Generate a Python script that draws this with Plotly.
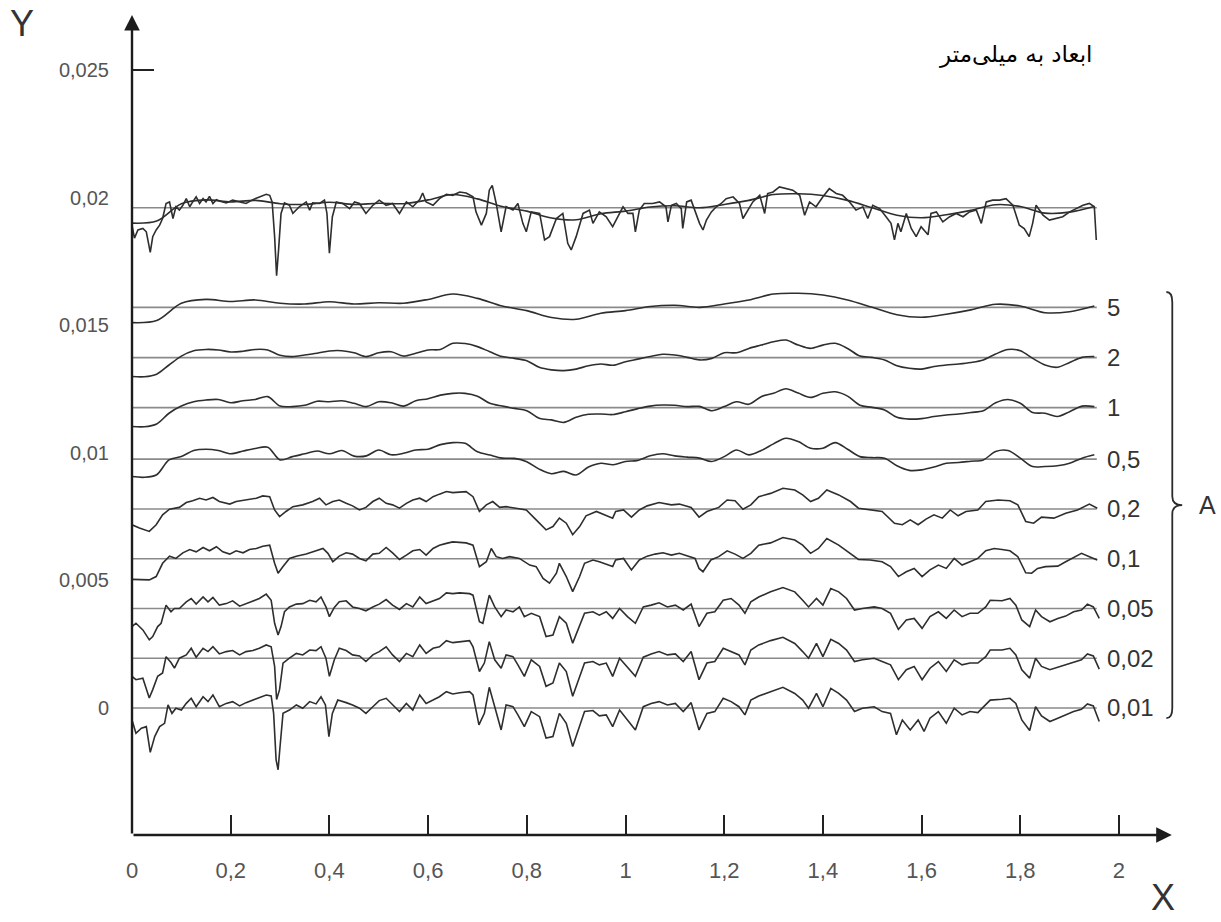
import numpy as np
import plotly.graph_objects as go

# ---------------------------------------------------------------
# Surface profile (raw) and its filtered versions, heights in mm.
# Each profile: x positions (mm) and deviation from its mean line (um).
# ---------------------------------------------------------------
cutoff_labels = ["5", "2", "1", "0,5", "0,2", "0,1", "0,05", "0,02", "0,01"]
raw_level = 0.0196
levels = [0.0157, 0.01373, 0.01177, 0.00975, 0.0078, 0.00585, 0.0039, 0.00195, 0.0]
profile_end = 1.955

x_tick_vals = [0, 0.2, 0.4, 0.6, 0.8, 1.0, 1.2, 1.4, 1.6, 1.8, 2.0]
x_tick_text = ["0", "0,2", "0,4", "0,6", "0,8", "1", "1,2", "1,4", "1,6", "1,8", "2"]
y_tick_vals = [-0.005, 0, 0.005, 0.01, 0.015, 0.02, 0.025]
y_tick_text = ["-0,005", "0", "0,005", "0,01", "0,015", "0,02", "0,025"]

# cut-off 5 mm, sampled every 0.05 mm
dz_5 = [-0.60, -0.52, 0.16, 0.31, 0.23, 0.29, 0.16, 0.13, 0.22, 0.13,
        0.18, 0.16, 0.31, 0.52, 0.35, 0.05, -0.13, -0.40, -0.47, -0.23,
        -0.13, 0.03, 0.08, 0.00, 0.13, 0.29, 0.52, 0.55, 0.48, 0.29,
        0.00, -0.29, -0.39, -0.27, -0.10, 0.12, 0.05, -0.21, -0.17, 0.05]

# cut-offs 2, 1 and 0.5 mm, sampled every 0.025 mm
dz_2 = [-0.74, -0.75, -0.65, -0.29, 0.06, 0.27, 0.32, 0.30, 0.22, 0.25,
        0.32, 0.30, 0.09, 0.04, 0.10, 0.17, 0.26, 0.27, 0.19, 0.04,
        0.19, 0.23, 0.06, 0.17, 0.30, 0.32, 0.56, 0.55, 0.43, 0.23,
        0.04, -0.03, -0.12, -0.38, -0.48, -0.51, -0.45, -0.32, -0.25, -0.30,
        -0.16, -0.06, 0.04, 0.13, 0.10, 0.01, -0.09, -0.03, 0.19, 0.19,
        0.36, 0.49, 0.62, 0.69, 0.49, 0.36, 0.49, 0.56, 0.36, 0.06,
        0.01, -0.09, -0.32, -0.42, -0.45, -0.35, -0.29, -0.25, -0.19, -0.09,
        0.14, 0.32, 0.27, -0.03, -0.29, -0.38, -0.19, 0.01, 0.04]
dz_1 = [-0.74, -0.75, -0.64, -0.22, 0.06, 0.23, 0.30, 0.32, 0.19, 0.27,
        0.32, 0.43, 0.06, 0.04, 0.09, 0.25, 0.23, 0.27, 0.17, 0.04,
        0.23, 0.19, 0.06, 0.27, 0.35, 0.49, 0.56, 0.56, 0.45, 0.17,
        0.06, -0.03, -0.12, -0.42, -0.48, -0.58, -0.38, -0.26, -0.25, -0.27,
        -0.16, -0.04, 0.06, 0.10, 0.09, 0.04, 0.05, -0.12, 0.04, 0.23,
        0.13, 0.43, 0.56, 0.74, 0.57, 0.40, 0.56, 0.62, 0.45, 0.09,
        0.01, -0.09, -0.38, -0.45, -0.43, -0.35, -0.29, -0.25, -0.19, -0.12,
        0.19, 0.32, 0.17, -0.19, -0.22, -0.35, -0.16, 0.06, 0.04]
dz_05 = [-0.68, -0.71, -0.61, -0.03, 0.10, 0.34, 0.39, 0.34, 0.21, 0.32,
         0.42, 0.47, -0.03, 0.10, 0.21, 0.32, 0.21, 0.34, 0.12, 0.13,
         0.36, 0.17, 0.23, 0.36, 0.39, 0.57, 0.65, 0.62, 0.29, 0.16,
         0.04, 0.03, -0.10, -0.39, -0.57, -0.48, -0.62, -0.31, -0.16, -0.22,
         -0.09, -0.05, 0.13, 0.21, 0.13, 0.08, 0.04, -0.09, 0.10, 0.36,
         0.17, 0.34, 0.60, 0.82, 0.69, 0.43, 0.43, 0.65, 0.39, 0.10,
         0.06, 0.04, -0.26, -0.44, -0.42, -0.31, -0.16, -0.13, -0.08, -0.03,
         0.30, 0.34, 0.04, -0.29, -0.29, -0.26, -0.16, 0.04, 0.17]

# cut-off 0.2 mm: (x mm, deviation um)
pts_02 = [(0.000, -0.62), (0.015, -0.75), (0.035, -0.88), (0.049, -0.62), (0.062, -0.23),
          (0.076, -0.01), (0.096, 0.06), (0.110, 0.25), (0.123, 0.32), (0.137, 0.42),
          (0.150, 0.35), (0.164, 0.45), (0.177, 0.29), (0.198, 0.19), (0.211, 0.29),
          (0.231, 0.35), (0.252, 0.42), (0.265, 0.51), (0.279, 0.48), (0.289, -0.04),
          (0.299, -0.30), (0.312, -0.10), (0.326, 0.09), (0.346, 0.16), (0.366, 0.29),
          (0.380, 0.42), (0.393, 0.16), (0.407, 0.29), (0.420, 0.35), (0.434, 0.22),
          (0.447, 0.12), (0.461, -0.04), (0.474, 0.06), (0.488, 0.29), (0.501, 0.42),
          (0.515, 0.22), (0.528, 0.16), (0.542, 0.03), (0.556, 0.22), (0.569, 0.35),
          (0.583, 0.42), (0.596, 0.29), (0.610, 0.48), (0.623, 0.58), (0.637, 0.68),
          (0.650, 0.64), (0.677, 0.68), (0.691, 0.48), (0.704, -0.10), (0.718, 0.16),
          (0.731, 0.29), (0.745, 0.06), (0.758, 0.09), (0.778, 0.03), (0.799, -0.04),
          (0.819, -0.43), (0.839, -0.82), (0.853, -0.69), (0.866, -0.36), (0.880, -0.56),
          (0.893, -1.01), (0.907, -0.69), (0.920, -0.27), (0.941, -0.10), (0.961, -0.27),
          (0.974, -0.36), (0.980, -0.10), (0.996, -0.04), (1.012, -0.32), (1.028, -0.04),
          (1.044, 0.12), (1.068, 0.25), (1.093, 0.16), (1.109, 0.19), (1.133, 0.06),
          (1.149, -0.32), (1.165, -0.10), (1.189, 0.06), (1.206, 0.35), (1.222, 0.32),
          (1.238, -0.01), (1.254, 0.16), (1.270, 0.48), (1.294, 0.61), (1.319, 0.81),
          (1.343, 0.74), (1.359, 0.55), (1.375, 0.29), (1.391, 0.42), (1.408, 0.74),
          (1.432, 0.55), (1.456, 0.29), (1.472, 0.03), (1.496, -0.04), (1.520, -0.10),
          (1.545, -0.56), (1.561, -0.62), (1.577, -0.43), (1.593, -0.62), (1.609, -0.40),
          (1.625, -0.23), (1.642, -0.36), (1.658, -0.04), (1.674, -0.27), (1.690, -0.10),
          (1.714, -0.04), (1.730, 0.29), (1.755, 0.35), (1.779, 0.32), (1.795, 0.16),
          (1.811, -0.49), (1.827, -0.56), (1.843, -0.32), (1.868, -0.36), (1.892, -0.17),
          (1.916, -0.04), (1.940, 0.19), (1.956, 0.03)]

# cut-off 0.1 mm
pts_01 = [(0.000, -0.81), (0.015, -0.81), (0.035, -0.83), (0.049, -0.70), (0.062, -0.18),
          (0.076, 0.10), (0.089, 0.01), (0.103, 0.23), (0.117, 0.36), (0.130, 0.27),
          (0.144, 0.44), (0.157, 0.31), (0.171, 0.47), (0.184, 0.27), (0.198, 0.18),
          (0.211, 0.31), (0.225, 0.23), (0.238, 0.36), (0.252, 0.40), (0.265, 0.49),
          (0.279, 0.53), (0.289, -0.18), (0.296, -0.57), (0.306, -0.31), (0.319, 0.01),
          (0.333, 0.10), (0.353, 0.18), (0.373, 0.31), (0.387, 0.40), (0.397, 0.21),
          (0.407, -0.12), (0.420, 0.10), (0.434, 0.23), (0.447, 0.18), (0.461, 0.01),
          (0.474, -0.08), (0.488, 0.18), (0.501, 0.21), (0.515, 0.44), (0.528, 0.23),
          (0.542, -0.03), (0.556, 0.14), (0.569, 0.31), (0.583, 0.36), (0.596, 0.14),
          (0.610, 0.40), (0.623, 0.53), (0.637, 0.60), (0.650, 0.66), (0.677, 0.62),
          (0.691, 0.53), (0.704, -0.31), (0.718, -0.12), (0.728, 0.40), (0.738, 0.08),
          (0.751, 0.01), (0.765, 0.08), (0.785, 0.01), (0.806, -0.25), (0.819, -0.31),
          (0.833, -0.77), (0.846, -0.96), (0.860, -0.57), (0.866, -0.18), (0.880, -0.70),
          (0.893, -1.29), (0.907, -0.70), (0.917, -0.18), (0.934, -0.05), (0.947, -0.12),
          (0.961, -0.21), (0.974, -0.31), (0.980, -0.05), (0.996, 0.01), (1.012, -0.44),
          (1.028, -0.05), (1.044, 0.10), (1.060, 0.18), (1.076, 0.23), (1.093, 0.14),
          (1.109, 0.21), (1.125, 0.10), (1.141, 0.01), (1.149, -0.38), (1.157, -0.51),
          (1.173, -0.05), (1.189, 0.08), (1.206, 0.31), (1.222, 0.18), (1.238, 0.01),
          (1.254, 0.21), (1.270, 0.53), (1.294, 0.62), (1.319, 0.83), (1.343, 0.73),
          (1.359, 0.53), (1.375, 0.21), (1.391, 0.40), (1.408, 0.79), (1.432, 0.53),
          (1.456, 0.21), (1.472, -0.03), (1.496, -0.05), (1.520, -0.12), (1.537, -0.31),
          (1.553, -0.70), (1.569, -0.51), (1.585, -0.38), (1.601, -0.70), (1.617, -0.44),
          (1.634, -0.25), (1.650, -0.38), (1.666, 0.01), (1.682, -0.25), (1.698, -0.12),
          (1.714, 0.01), (1.730, 0.31), (1.747, 0.40), (1.763, 0.36), (1.779, 0.31),
          (1.795, 0.08), (1.811, -0.55), (1.823, -0.57), (1.835, -0.38), (1.851, -0.31),
          (1.876, -0.29), (1.892, -0.12), (1.908, 0.05), (1.924, 0.21), (1.940, 0.08),
          (1.956, -0.05)]

# cut-off 0.05 mm
pts_005 = [(0.000, -0.71), (0.008, -0.58), (0.022, -0.84), (0.035, -1.23), (0.042, -1.10),
           (0.052, -0.71), (0.059, -0.58), (0.069, 0.13), (0.079, -0.13), (0.086, 0.00),
           (0.096, 0.00), (0.110, 0.26), (0.120, 0.39), (0.130, 0.17), (0.144, 0.45),
           (0.154, 0.26), (0.164, 0.43), (0.177, 0.13), (0.191, 0.19), (0.204, 0.30),
           (0.218, 0.09), (0.231, 0.19), (0.245, 0.30), (0.258, 0.39), (0.272, 0.56),
           (0.282, 0.32), (0.289, -0.58), (0.296, -1.04), (0.302, -0.71), (0.309, -0.13),
           (0.319, 0.06), (0.333, 0.17), (0.346, 0.19), (0.360, 0.32), (0.373, 0.26),
           (0.383, 0.45), (0.393, 0.06), (0.400, -0.32), (0.410, 0.04), (0.420, 0.26),
           (0.434, 0.30), (0.447, 0.06), (0.461, 0.00), (0.474, -0.09), (0.488, 0.06),
           (0.501, 0.17), (0.515, 0.35), (0.528, 0.13), (0.542, -0.04), (0.556, 0.19),
           (0.569, 0.06), (0.583, 0.45), (0.596, 0.19), (0.610, 0.30), (0.623, 0.39),
           (0.637, 0.61), (0.650, 0.58), (0.664, 0.61), (0.684, 0.58), (0.691, 0.52),
           (0.704, -0.52), (0.711, -0.58), (0.724, 0.52), (0.735, 0.06), (0.748, -0.32),
           (0.758, -0.06), (0.772, -0.13), (0.785, 0.06), (0.795, -0.32), (0.809, -0.19),
           (0.826, -0.32), (0.839, -1.10), (0.853, -1.04), (0.866, -0.32), (0.880, -0.58),
           (0.893, -1.36), (0.907, -0.65), (0.917, -0.19), (0.934, -0.13), (0.947, -0.26),
           (0.961, -0.13), (0.974, -0.39), (0.988, 0.00), (1.004, -0.32), (1.020, -0.58),
           (1.036, 0.06), (1.052, 0.13), (1.068, 0.22), (1.085, 0.06), (1.101, 0.13),
           (1.117, -0.06), (1.133, 0.17), (1.149, -0.71), (1.165, -0.19), (1.181, -0.13),
           (1.198, 0.32), (1.214, 0.39), (1.230, 0.13), (1.242, -0.19), (1.254, 0.26),
           (1.270, 0.45), (1.294, 0.65), (1.319, 0.82), (1.343, 0.65), (1.359, 0.32),
           (1.371, 0.06), (1.387, 0.39), (1.400, 0.13), (1.416, 0.78), (1.432, 0.65),
           (1.448, 0.39), (1.464, -0.06), (1.480, 0.00), (1.504, 0.06), (1.520, 0.00),
           (1.537, -0.19), (1.553, -0.82), (1.569, -0.45), (1.585, -0.39), (1.601, -0.78),
           (1.617, -0.32), (1.634, -0.13), (1.650, -0.39), (1.666, -0.06), (1.682, -0.32),
           (1.698, -0.19), (1.714, -0.19), (1.730, 0.06), (1.739, 0.32), (1.763, 0.30),
           (1.779, 0.39), (1.791, 0.13), (1.803, -0.45), (1.819, -0.71), (1.831, -0.06),
           (1.843, -0.32), (1.860, -0.52), (1.876, -0.39), (1.892, -0.30), (1.908, -0.13),
           (1.924, -0.06), (1.936, 0.17), (1.948, 0.06), (1.960, -0.39)]

# cut-off 0.02 mm
pts_002 = [(0.000, -0.71), (0.008, -0.84), (0.022, -0.78), (0.035, -1.56), (0.042, -1.23),
           (0.052, -0.71), (0.062, -0.58), (0.069, 0.06), (0.079, -0.17), (0.086, -0.39),
           (0.096, 0.00), (0.110, 0.13), (0.120, 0.39), (0.130, 0.04), (0.144, 0.39),
           (0.154, 0.26), (0.164, 0.45), (0.177, 0.17), (0.191, 0.26), (0.204, 0.30),
           (0.218, 0.13), (0.231, 0.26), (0.245, 0.30), (0.258, 0.39), (0.272, 0.52),
           (0.282, 0.45), (0.289, -0.32), (0.293, -1.62), (0.299, -1.23), (0.306, -0.19),
           (0.319, 0.00), (0.333, 0.19), (0.346, 0.13), (0.360, 0.32), (0.373, 0.30),
           (0.383, 0.45), (0.393, 0.00), (0.400, -0.71), (0.410, -0.06), (0.420, 0.39),
           (0.434, 0.30), (0.447, 0.13), (0.461, 0.09), (0.474, -0.13), (0.488, 0.13),
           (0.501, 0.26), (0.515, 0.45), (0.528, 0.13), (0.542, -0.13), (0.556, 0.19),
           (0.569, 0.06), (0.583, 0.52), (0.596, 0.19), (0.610, 0.39), (0.623, 0.45),
           (0.637, 0.69), (0.650, 0.61), (0.664, 0.65), (0.684, 0.69), (0.691, 0.45),
           (0.704, -0.52), (0.714, -0.19), (0.724, 0.65), (0.735, -0.06), (0.748, -0.39),
           (0.758, 0.13), (0.772, 0.06), (0.782, -0.26), (0.795, -0.71), (0.809, -0.06),
           (0.826, -0.32), (0.839, -1.10), (0.853, -0.97), (0.866, -0.19), (0.880, -0.52),
           (0.893, -1.49), (0.907, -0.71), (0.917, -0.19), (0.934, -0.13), (0.947, -0.26),
           (0.961, -0.19), (0.974, -0.71), (0.988, 0.00), (1.004, -0.35), (1.020, -0.71),
           (1.036, 0.04), (1.052, 0.17), (1.068, 0.26), (1.085, 0.13), (1.101, 0.17),
           (1.117, -0.13), (1.133, 0.26), (1.149, -0.84), (1.165, -0.19), (1.181, -0.13),
           (1.198, 0.39), (1.214, 0.26), (1.230, 0.13), (1.242, -0.26), (1.254, 0.32),
           (1.270, 0.52), (1.294, 0.69), (1.319, 0.82), (1.343, 0.58), (1.359, 0.26),
           (1.371, 0.00), (1.387, 0.58), (1.400, 0.06), (1.416, 0.74), (1.432, 0.58),
           (1.448, 0.32), (1.464, -0.13), (1.480, -0.06), (1.504, 0.00), (1.520, -0.13),
           (1.537, -0.26), (1.553, -0.84), (1.569, -0.45), (1.585, -0.32), (1.601, -0.84),
           (1.617, -0.39), (1.634, -0.13), (1.650, -0.52), (1.666, -0.06), (1.682, -0.26),
           (1.698, -0.19), (1.714, -0.19), (1.730, 0.06), (1.739, 0.32), (1.763, 0.32),
           (1.779, 0.39), (1.791, 0.13), (1.803, -0.45), (1.819, -0.78), (1.831, 0.00),
           (1.843, -0.32), (1.860, -0.45), (1.876, -0.35), (1.892, -0.26), (1.908, -0.17),
           (1.924, -0.06), (1.936, 0.17), (1.948, 0.09), (1.960, -0.43)]

# cut-off 0.01 mm
pts_001 = [(0.000, -0.47), (0.008, -0.99), (0.019, -0.79), (0.029, -0.73), (0.037, -1.74),
           (0.046, -1.12), (0.056, -0.73), (0.066, -0.60), (0.073, 0.12), (0.081, -0.21),
           (0.089, -0.01), (0.100, -0.08), (0.110, 0.18), (0.120, 0.38), (0.130, 0.05),
           (0.144, 0.44), (0.154, 0.25), (0.164, 0.51), (0.177, 0.05), (0.191, 0.18),
           (0.204, 0.25), (0.218, 0.08), (0.231, 0.21), (0.245, 0.31), (0.258, 0.42),
           (0.272, 0.51), (0.282, 0.47), (0.287, -0.21), (0.292, -2.03), (0.296, -2.42),
           (0.300, -1.51), (0.306, -0.21), (0.319, -0.08), (0.333, 0.12), (0.346, -0.01),
           (0.360, 0.25), (0.373, 0.16), (0.383, 0.44), (0.392, 0.12), (0.399, -1.12),
           (0.406, -0.21), (0.417, 0.31), (0.434, 0.21), (0.447, 0.12), (0.461, -0.01),
           (0.474, -0.21), (0.488, 0.05), (0.501, 0.29), (0.515, 0.38), (0.528, 0.12),
           (0.542, -0.14), (0.556, 0.18), (0.569, -0.08), (0.583, 0.51), (0.596, 0.18),
           (0.610, 0.31), (0.623, 0.44), (0.637, 0.64), (0.650, 0.55), (0.664, 0.60),
           (0.684, 0.64), (0.691, 0.51), (0.703, -0.66), (0.714, -0.21), (0.724, 0.81),
           (0.735, 0.05), (0.748, -0.86), (0.758, 0.12), (0.772, 0.05), (0.782, -0.27),
           (0.795, -0.73), (0.809, -0.14), (0.826, -0.34), (0.839, -1.18), (0.853, -1.12),
           (0.866, -0.21), (0.880, -0.60), (0.893, -1.51), (0.907, -0.73), (0.917, -0.14),
           (0.934, -0.10), (0.947, -0.31), (0.961, -0.27), (0.974, -0.73), (0.988, -0.08),
           (1.004, -0.47), (1.020, -0.86), (1.036, 0.05), (1.052, 0.18), (1.068, 0.25),
           (1.085, 0.12), (1.101, 0.18), (1.117, -0.14), (1.133, 0.21), (1.149, -0.86),
           (1.165, -0.21), (1.181, -0.14), (1.198, 0.38), (1.214, 0.25), (1.230, 0.05),
           (1.242, -0.27), (1.254, 0.31), (1.270, 0.47), (1.294, 0.64), (1.319, 0.81),
           (1.343, 0.57), (1.359, 0.31), (1.371, -0.01), (1.387, 0.57), (1.400, 0.05),
           (1.416, 0.77), (1.432, 0.57), (1.448, 0.31), (1.464, -0.14), (1.480, -0.01),
           (1.504, 0.05), (1.520, -0.14), (1.537, -0.21), (1.549, -1.05), (1.561, -0.47),
           (1.577, -0.86), (1.593, -0.47), (1.605, -0.92), (1.617, -0.40), (1.634, -0.14),
           (1.650, -0.60), (1.666, -0.01), (1.682, -0.27), (1.698, -0.14), (1.714, -0.18),
           (1.730, 0.12), (1.739, 0.31), (1.763, 0.34), (1.779, 0.38), (1.791, 0.18),
           (1.803, -0.47), (1.819, -0.88), (1.831, 0.05), (1.843, -0.31), (1.860, -0.53),
           (1.876, -0.40), (1.892, -0.27), (1.908, -0.14), (1.924, -0.05), (1.936, 0.16),
           (1.948, 0.08), (1.960, -0.53)]

# unfiltered profile
pts_raw = [(0.000, -0.68), (0.005, -1.19), (0.012, -0.87), (0.022, -0.81), (0.029, -0.94),
           (0.037, -1.75), (0.042, -1.13), (0.049, -0.87), (0.056, -0.68), (0.062, -0.42),
           (0.069, 0.17), (0.076, 0.23), (0.083, -0.42), (0.089, 0.04), (0.096, -0.09),
           (0.103, 0.10), (0.110, 0.36), (0.117, 0.04), (0.123, 0.23), (0.130, 0.43),
           (0.137, 0.17), (0.144, 0.36), (0.150, 0.23), (0.157, 0.45), (0.164, 0.17),
           (0.171, 0.32), (0.177, 0.27), (0.191, 0.19), (0.204, 0.30), (0.218, 0.23),
           (0.231, 0.17), (0.245, 0.32), (0.258, 0.43), (0.272, 0.53), (0.279, 0.49),
           (0.284, 0.23), (0.289, -1.13), (0.293, -2.66), (0.297, -1.65), (0.302, -0.22),
           (0.309, 0.19), (0.319, 0.10), (0.326, -0.22), (0.339, 0.04), (0.353, 0.23),
           (0.360, -0.09), (0.366, 0.19), (0.380, 0.17), (0.390, 0.30), (0.395, -0.22),
           (0.400, -1.78), (0.406, -0.35), (0.414, 0.23), (0.427, 0.17), (0.441, -0.03),
           (0.451, 0.23), (0.461, 0.17), (0.474, -0.22), (0.488, 0.10), (0.501, 0.30),
           (0.515, 0.10), (0.528, 0.17), (0.542, -0.22), (0.556, 0.23), (0.569, 0.04),
           (0.583, 0.32), (0.589, 0.58), (0.596, 0.23), (0.610, 0.10), (0.623, 0.36),
           (0.637, 0.53), (0.650, 0.49), (0.664, 0.62), (0.677, 0.58), (0.691, 0.43),
           (0.697, -0.16), (0.708, -0.68), (0.718, -0.22), (0.724, 0.69), (0.730, 0.88),
           (0.738, 0.17), (0.748, -0.94), (0.758, 0.04), (0.772, -0.09), (0.782, 0.17),
           (0.792, -0.61), (0.799, -0.94), (0.809, -0.16), (0.826, -0.22), (0.836, -1.26),
           (0.846, -1.13), (0.860, -0.42), (0.873, -0.22), (0.883, -1.39), (0.890, -1.65),
           (0.900, -1.13), (0.914, -0.22), (0.927, -0.09), (0.934, -0.61), (0.947, -0.16),
           (0.961, -0.35), (0.974, -0.74), (0.988, -0.22), (0.995, 0.04), (1.005, -0.22),
           (1.015, -0.22), (1.020, -0.94), (1.028, -0.09), (1.038, 0.17), (1.055, 0.17),
           (1.069, 0.23), (1.082, 0.04), (1.086, -0.55), (1.093, 0.10), (1.103, 0.17),
           (1.113, -0.03), (1.116, -0.81), (1.124, 0.23), (1.133, 0.30), (1.143, -0.22),
           (1.150, -0.61), (1.157, -0.87), (1.164, -0.48), (1.174, -0.16), (1.184, 0.04),
           (1.194, 0.17), (1.204, 0.36), (1.218, 0.43), (1.231, 0.17), (1.238, -0.42),
           (1.244, -0.22), (1.258, 0.23), (1.272, 0.49), (1.282, -0.22), (1.288, 0.56),
           (1.299, 0.62), (1.312, 0.82), (1.326, 0.75), (1.339, 0.69), (1.353, 0.49),
           (1.363, -0.29), (1.373, 0.23), (1.386, 0.04), (1.400, 0.43), (1.413, 0.75),
           (1.427, 0.56), (1.440, 0.49), (1.454, 0.23), (1.467, -0.09), (1.481, 0.04),
           (1.491, -0.42), (1.501, 0.10), (1.515, -0.03), (1.528, -0.35), (1.538, -0.61),
           (1.545, -1.26), (1.552, -0.61), (1.558, -0.94), (1.569, -0.22), (1.579, -0.81),
           (1.589, -1.13), (1.599, -0.74), (1.613, -1.06), (1.619, -0.22), (1.630, -0.16),
           (1.643, -0.55), (1.657, -0.35), (1.670, -0.22), (1.684, -0.35), (1.697, -0.16),
           (1.711, -0.09), (1.721, -0.61), (1.731, 0.23), (1.744, 0.30), (1.758, 0.30),
           (1.771, 0.36), (1.785, 0.10), (1.798, -0.68), (1.808, -0.81), (1.818, -1.13),
           (1.825, -0.61), (1.832, 0.10), (1.846, -0.29), (1.859, -0.48), (1.873, -0.42),
           (1.886, -0.35), (1.900, -0.16), (1.913, -0.03), (1.927, 0.10), (1.940, 0.17),
           (1.950, 0.04), (1.954, -1.26)]

# ---------------------------------------------------------------
x_5 = np.round(np.arange(len(dz_5)) * 0.05, 3)
x_25 = np.round(np.arange(len(dz_2)) * 0.025, 3)


def unzip(pts):
    return [p[0] for p in pts], [p[1] for p in pts]


filtered = [
    (x_5, dz_5, True),
    (x_25, dz_2, True),
    (x_25, dz_1, True),
    (x_25, dz_05, True),
    (*unzip(pts_02), False),
    (*unzip(pts_01), False),
    (*unzip(pts_005), False),
    (*unzip(pts_002), False),
    (*unzip(pts_001), False),
]

LINE = "#2e2e2e"
BASE = "#8a8a8a"
fig = go.Figure()


def add_line(xs, dz, level, smooth):
    fig.add_trace(go.Scatter(
        x=list(xs), y=[level + d / 1000.0 for d in dz], mode="lines",
        line=dict(color=LINE, width=1.6, shape="spline" if smooth else "linear",
                  smoothing=0.9 if smooth else None),
        hoverinfo="skip", showlegend=False))


def add_mean_line(level):
    fig.add_trace(go.Scatter(
        x=[0, profile_end], y=[level, level], mode="lines",
        line=dict(color=BASE, width=1.6), hoverinfo="skip", showlegend=False))


# unfiltered profile with its mean line and long-wave trend
add_mean_line(raw_level)
add_line(x_5, dz_5, raw_level, True)
xr, dr = unzip(pts_raw)
add_line(xr, dr, raw_level, False)

# filtered profiles
for (xs, dz, smooth), lvl in zip(filtered, levels):
    add_mean_line(lvl)
    add_line(xs, dz, lvl, smooth)

# ---------------------------------------------------------------
Y_MIN, Y_MAX = -0.004977, 0.027155
X_MAX = 2.2067
X_ARROW = 2.107

annotations = []
# axes with arrow heads
annotations.append(dict(x=0, y=Y_MAX, ax=0, ay=Y_MIN, xref="x", yref="y", axref="x", ayref="y",
                        text="", showarrow=True, arrowhead=2, arrowsize=1.3, arrowwidth=2.4,
                        arrowcolor="#1c1c1c"))
annotations.append(dict(x=X_ARROW, y=Y_MIN, ax=0, ay=Y_MIN, xref="x", yref="y", axref="x", ayref="y",
                        text="", showarrow=True, arrowhead=2, arrowsize=1.3, arrowwidth=2.4,
                        arrowcolor="#1c1c1c"))
# axis names
annotations.append(dict(x=-0.101, y=0.990, xref="paper", yref="paper", text="Y", showarrow=False,
                        xanchor="center", yanchor="middle",
                        font=dict(family="Liberation Sans, Arial", size=36, color="#333")))
annotations.append(dict(x=0.9467, y=-0.0768, xref="paper", yref="paper", text="X", showarrow=False,
                        xanchor="center", yanchor="middle",
                        font=dict(family="Liberation Sans, Arial", size=36, color="#333")))
# cut-off labels
for lab, lvl in zip(cutoff_labels, levels):
    annotations.append(dict(x=1.972, y=lvl, xref="x", yref="y", text=lab, showarrow=False,
                            xanchor="left", yanchor="middle",
                            font=dict(family="Liberation Sans, Arial", size=24, color="#333")))
annotations.append(dict(x=2.180, y=0.00795, xref="x", yref="y", text="A", showarrow=False,
                        font=dict(family="Liberation Sans, Arial", size=25, color="#333")))
# units note
annotations.append(dict(x=1.951, y=0.02559, xref="x", yref="y",
                        text="ابعاد به میلی\u200cمتر", showarrow=False,
                        xanchor="right", yanchor="middle",
                        font=dict(family="DejaVu Sans", size=23, color="#000")))

# brace grouping the filtered profiles
bx = 2.108
y_top, y_mid, y_bot = 0.0163, 0.00795, -0.0004
brace = (f"M {bx-0.012},{y_top} Q {bx},{y_top} {bx},{y_top-0.0004} "
         f"L {bx},{y_mid+0.00035} Q {bx},{y_mid} {bx+0.02},{y_mid} "
         f"Q {bx},{y_mid} {bx},{y_mid-0.00035} "
         f"L {bx},{y_bot+0.0004} Q {bx},{y_bot} {bx-0.012},{y_bot}")
shapes = [dict(type="path", path=brace, xref="x", yref="y",
               line=dict(color="#2b2b2b", width=1.8))]

fig.update_layout(
    width=1221, height=922,
    margin=dict(l=132, r=0, t=15, b=87),
    paper_bgcolor="white", plot_bgcolor="white",
    showlegend=False,
    annotations=annotations,
    shapes=shapes,
    xaxis=dict(range=[0, X_MAX], tickvals=x_tick_vals, ticktext=x_tick_text,
               ticks="inside", ticklen=20, tickwidth=1.6, tickcolor="#222",
               showgrid=False, zeroline=False, showline=False,
               ticklabelstandoff=20,
               tickfont=dict(family="Liberation Sans Narrow, Liberation Sans, Arial", size=22, color="#555")),
    yaxis=dict(range=[Y_MIN, Y_MAX], tickvals=y_tick_vals, ticktext=y_tick_text,
               ticks="", showgrid=False, zeroline=False, showline=False,
               ticklabelstandoff=22,
               tickfont=dict(family="Liberation Sans, Arial", size=20, color="#555")),
    yaxis2=dict(range=[Y_MIN, Y_MAX], overlaying="y", side="left", anchor="x",
                tickvals=[0.025], ticks="inside", ticklen=22, tickwidth=2, tickcolor="#222",
                showticklabels=False, showgrid=False, zeroline=False, showline=False),
)
# empty trace so the second y axis is drawn
fig.add_trace(go.Scatter(x=[None], y=[None], yaxis="y2", showlegend=False, hoverinfo="skip"))

fig.write_html("out.html")
